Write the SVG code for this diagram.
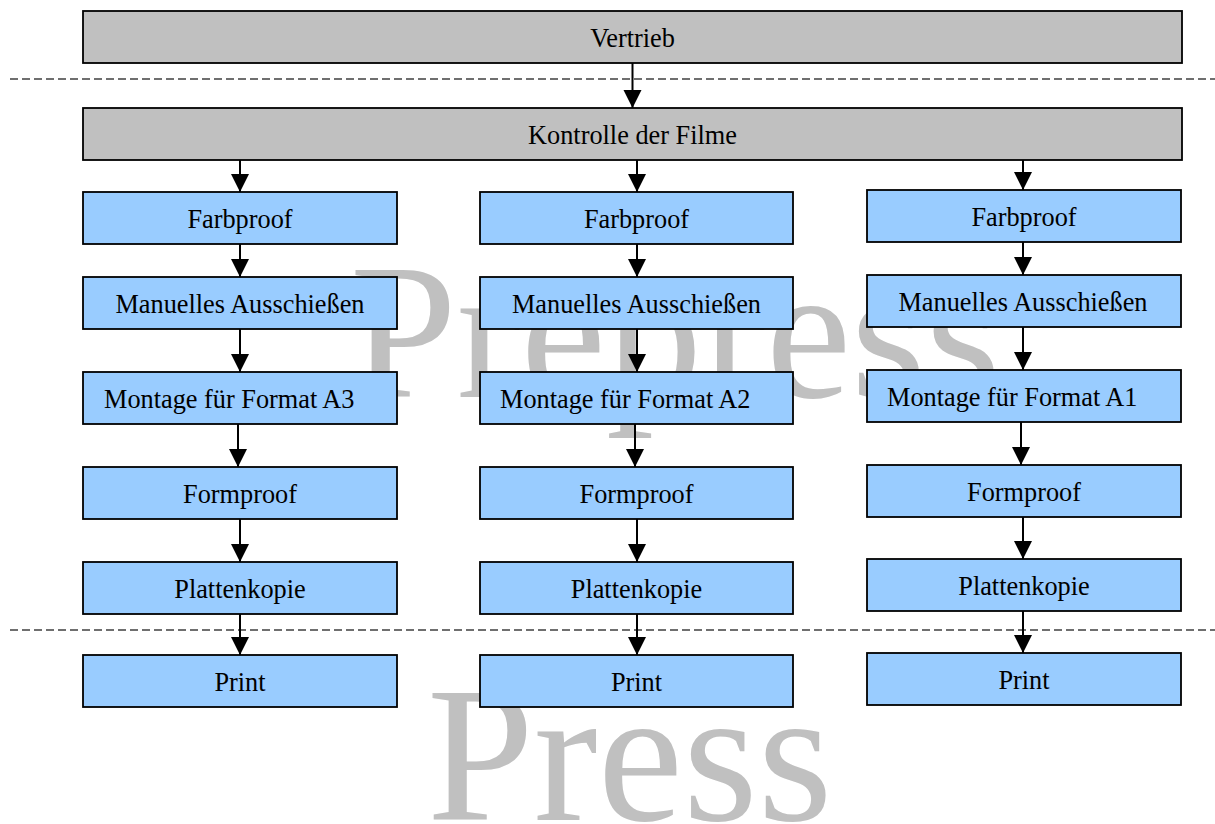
<svg xmlns="http://www.w3.org/2000/svg" width="1215" height="824" viewBox="0 0 1215 824">
  <style>
    .wm { font-family: "Liberation Serif", "Times New Roman", serif; font-size: 192px; fill: #c0c0c0; }
    .box-gray { fill: #c0c0c0; stroke: #000; stroke-width: 1.8; }
    .box-blue { fill: #99ccff; stroke: #000; stroke-width: 1.8; }
    .lbl { font-family: "Liberation Serif", "Times New Roman", serif; font-size: 26.3px; fill: #000; text-anchor: middle; }
    .lbl-l { font-family: "Liberation Serif", "Times New Roman", serif; font-size: 26.3px; fill: #000; text-anchor: start; }
    .sep { stroke: #404040; stroke-width: 1.4; stroke-dasharray: 8 4; fill: none; }
    .edge { stroke: #000; stroke-width: 2; fill: none; marker-end: url(#arrow); }
  </style>
  <defs>
    <marker id="arrow" markerUnits="userSpaceOnUse" markerWidth="20" markerHeight="20" refX="18" refY="9" orient="auto">
      <path d="M0,0 L18,9 L0,18 Z" fill="#000"/>
    </marker>
  </defs>

  <rect width="1215" height="824" fill="#fff"/>

  <!-- background watermarks -->
  <g id="watermarks">
    <text class="wm" x="350" y="397">Prepress</text>
    <text class="wm" x="427" y="820">Press</text>
  </g>

  <!-- phase separators -->
  <g id="separators">
    <line class="sep" x1="10" y1="79" x2="1215" y2="79"/>
    <line class="sep" x1="10" y1="630" x2="1215" y2="630"/>
  </g>

  <!-- connectors -->
  <g id="connectors">
    <line class="edge" x1="632.5" y1="63" x2="632.5" y2="108"/>
    <!-- column A3 -->
    <line class="edge" x1="240" y1="160" x2="240" y2="192"/>
    <line class="edge" x1="240" y1="244" x2="240" y2="277"/>
    <line class="edge" x1="240" y1="329" x2="240" y2="372"/>
    <line class="edge" x1="238" y1="424" x2="238" y2="467"/>
    <line class="edge" x1="240" y1="519" x2="240" y2="562"/>
    <line class="edge" x1="240" y1="614" x2="240" y2="655"/>
    <!-- column A2 -->
    <line class="edge" x1="637" y1="160" x2="637" y2="192"/>
    <line class="edge" x1="637" y1="244" x2="637" y2="277"/>
    <line class="edge" x1="637" y1="329" x2="637" y2="372"/>
    <line class="edge" x1="635" y1="424" x2="635" y2="467"/>
    <line class="edge" x1="637" y1="519" x2="637" y2="562"/>
    <line class="edge" x1="637" y1="614" x2="637" y2="655"/>
    <!-- column A1 -->
    <line class="edge" x1="1023" y1="160" x2="1023" y2="190"/>
    <line class="edge" x1="1023" y1="242" x2="1023" y2="275"/>
    <line class="edge" x1="1023" y1="327" x2="1023" y2="370"/>
    <line class="edge" x1="1021" y1="422" x2="1021" y2="465"/>
    <line class="edge" x1="1023" y1="517" x2="1023" y2="559"/>
    <line class="edge" x1="1023" y1="611" x2="1023" y2="653"/>
  </g>

  <!-- top level nodes -->
  <g id="vertrieb">
    <rect class="box-gray" x="83" y="11" width="1099" height="52"/>
    <text class="lbl" x="632.5" y="47">Vertrieb</text>
  </g>
  <g id="kontrolle">
    <rect class="box-gray" x="83" y="108" width="1099" height="52"/>
    <text class="lbl" x="632.5" y="144">Kontrolle der Filme</text>
  </g>

  <!-- column A3 -->
  <g id="a3-farbproof">
    <rect class="box-blue" x="83" y="192" width="314" height="52"/>
    <text class="lbl" x="240" y="228">Farbproof</text>
  </g>
  <g id="a3-ausschiessen">
    <rect class="box-blue" x="83" y="277" width="314" height="52"/>
    <text class="lbl" x="240" y="313">Manuelles Ausschießen</text>
  </g>
  <g id="a3-montage">
    <rect class="box-blue" x="83" y="372" width="314" height="52"/>
    <text class="lbl-l" x="104" y="408">Montage für Format A3</text>
  </g>
  <g id="a3-formproof">
    <rect class="box-blue" x="83" y="467" width="314" height="52"/>
    <text class="lbl" x="240" y="503">Formproof</text>
  </g>
  <g id="a3-plattenkopie">
    <rect class="box-blue" x="83" y="562" width="314" height="52"/>
    <text class="lbl" x="240" y="598">Plattenkopie</text>
  </g>
  <g id="a3-print">
    <rect class="box-blue" x="83" y="655" width="314" height="52"/>
    <text class="lbl" x="240" y="691">Print</text>
  </g>

  <!-- column A2 -->
  <g id="a2-farbproof">
    <rect class="box-blue" x="480" y="192" width="313" height="52"/>
    <text class="lbl" x="636.5" y="228">Farbproof</text>
  </g>
  <g id="a2-ausschiessen">
    <rect class="box-blue" x="480" y="277" width="313" height="52"/>
    <text class="lbl" x="636.5" y="313">Manuelles Ausschießen</text>
  </g>
  <g id="a2-montage">
    <rect class="box-blue" x="480" y="372" width="313" height="52"/>
    <text class="lbl-l" x="500" y="408">Montage für Format A2</text>
  </g>
  <g id="a2-formproof">
    <rect class="box-blue" x="480" y="467" width="313" height="52"/>
    <text class="lbl" x="636.5" y="503">Formproof</text>
  </g>
  <g id="a2-plattenkopie">
    <rect class="box-blue" x="480" y="562" width="313" height="52"/>
    <text class="lbl" x="636.5" y="598">Plattenkopie</text>
  </g>
  <g id="a2-print">
    <rect class="box-blue" x="480" y="655" width="313" height="52"/>
    <text class="lbl" x="636.5" y="691">Print</text>
  </g>

  <!-- column A1 -->
  <g id="a1-farbproof">
    <rect class="box-blue" x="867" y="190" width="314" height="52"/>
    <text class="lbl" x="1024" y="226">Farbproof</text>
  </g>
  <g id="a1-ausschiessen">
    <rect class="box-blue" x="867" y="275" width="314" height="52"/>
    <text class="lbl" x="1023" y="311">Manuelles Ausschießen</text>
  </g>
  <g id="a1-montage">
    <rect class="box-blue" x="867" y="370" width="314" height="52"/>
    <text class="lbl-l" x="887" y="406">Montage für Format A1</text>
  </g>
  <g id="a1-formproof">
    <rect class="box-blue" x="867" y="465" width="314" height="52"/>
    <text class="lbl" x="1024" y="501">Formproof</text>
  </g>
  <g id="a1-plattenkopie">
    <rect class="box-blue" x="867" y="559" width="314" height="52"/>
    <text class="lbl" x="1024" y="595">Plattenkopie</text>
  </g>
  <g id="a1-print">
    <rect class="box-blue" x="867" y="653" width="314" height="52"/>
    <text class="lbl" x="1024" y="689">Print</text>
  </g>
</svg>
